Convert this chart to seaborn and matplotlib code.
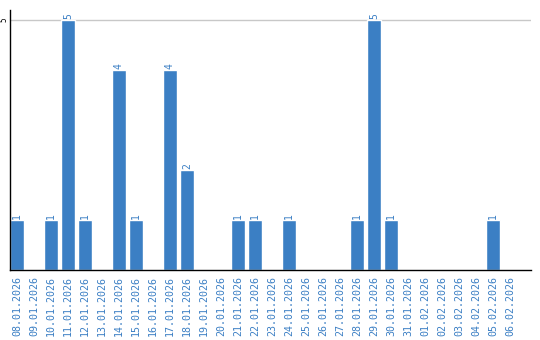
import matplotlib
matplotlib.use("Agg")
import matplotlib.pyplot as plt
import seaborn as sns
import pandas as pd

dates = ["08.01.2026", "09.01.2026", "10.01.2026", "11.01.2026", "12.01.2026",
         "13.01.2026", "14.01.2026", "15.01.2026", "16.01.2026", "17.01.2026",
         "18.01.2026", "19.01.2026", "20.01.2026", "21.01.2026", "22.01.2026",
         "23.01.2026", "24.01.2026", "25.01.2026", "26.01.2026", "27.01.2026",
         "28.01.2026", "29.01.2026", "30.01.2026", "31.01.2026", "01.02.2026",
         "02.02.2026", "03.02.2026", "04.02.2026", "05.02.2026", "06.02.2026"]
values = [1, 0, 1, 5, 1, 0, 4, 1, 0, 4, 2, 0, 0, 1, 1, 0, 1, 0, 0, 0,
          1, 5, 1, 0, 0, 0, 0, 0, 1, 0]
y_ticks = [5]

df = pd.DataFrame({"date": dates, "value": values})

sns.set_style("white")
plt.rcParams['font.family'] = ['DejaVu Sans Mono', 'DejaVu Sans']

blue = "#3b7fc4"
fig = plt.figure(figsize=(5.4, 3.4), dpi=100)
ax = fig.add_axes([10/540, 70/340, 521/540, 260/340])
sns.barplot(data=df, x="date", y="value", color=blue, width=0.82,
            saturation=1, ax=ax)

ax.set_ylim(0, 5.2)
ax.set_xlim(-0.41, 30.24)
ax.set_xlabel("")
ax.set_ylabel("")

for spine in ["top", "right"]:
    ax.spines[spine].set_visible(False)
ax.spines["left"].set_color("black")
ax.spines["bottom"].set_color("black")
ax.spines["left"].set_linewidth(1)
ax.spines["bottom"].set_linewidth(1)

ax.set_yticks(y_ticks)
ax.set_yticklabels([str(t) for t in y_ticks], rotation=90, va="center",
                   ha="right", fontsize=5.5, color="black")
ax.tick_params(axis="y", length=0, pad=1)
ax.tick_params(axis="x", length=0, pad=4)
ax.axhline(5, color="#c8c8c8", linewidth=1, zorder=0)

ax.set_xticks(range(len(dates)))
ax.set_xticklabels(dates, rotation=90, fontsize=7.2, color=blue, va="top")

labels = [str(v) if v > 0 else "" for v in values]
ax.bar_label(ax.containers[0], labels=labels, rotation=90, padding=1,
             fontsize=7, color=blue)

fig.savefig("out.png", dpi=100)
